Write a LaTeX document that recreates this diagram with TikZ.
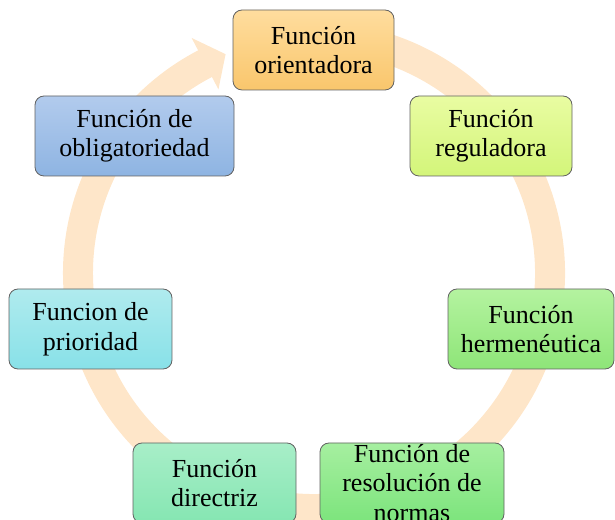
\documentclass[tikz,border=0pt]{standalone}
\usepackage{fontspec}
\setmainfont{Liberation Serif}
\usetikzlibrary{calc}
\begin{document}
\begin{tikzpicture}[x=1pt,y=1pt,
  fbox/.style={draw=black!62, line width=0.8pt, rounded corners=9pt,
    minimum height=80pt, align=center, inner sep=0pt,
    font=\fontsize{26}{29.5}\selectfont, text=black},
  ring/.style={draw=ringc, line width=30pt}
]
\definecolor{ringc}{RGB}{254,230,201}
\useasboundingbox (0,0) rectangle (615,519);
\clip (0,0) rectangle (615,519);
% ring
\coordinate (c) at (314,246);
\draw[ring] (c) ++(105:236) arc[start angle=105, end angle=-243.5, radius=236];
\fill[ringc] ($(c)+(117.5:207)$) -- ($(c)+(112:236)$) -- ($(c)+(117.5:265)$) -- cycle;
% boxes
\node[fbox, minimum width=161pt, top color={rgb,255:red,255;green,221;blue,158}, bottom color={rgb,255:red,249;green,198;blue,108}] (ori) at (313.5,469) {Función\\orientadora};
\node[fbox, minimum width=162pt, top color={rgb,255:red,233;green,252;blue,162}, bottom color={rgb,255:red,211;green,245;blue,122}] (reg) at (491,383) {Función\\reguladora};
\node[fbox, minimum width=199pt, top color={rgb,255:red,178;green,203;blue,237}, bottom color={rgb,255:red,142;green,180;blue,226}] (obl) at (134.5,383) {Función de\\obligatoriedad};
\node[fbox, minimum width=166pt, top color={rgb,255:red,180;green,243;blue,160}, bottom color={rgb,255:red,142;green,229;blue,120}] (her) at (531,190) {Función\\hermenéutica};
\node[fbox, minimum width=163pt, top color={rgb,255:red,176;green,235;blue,238}, bottom color={rgb,255:red,136;green,225;blue,232}] (pri) at (90.5,190) {Funcion de\\prioridad};
\node[fbox, minimum width=163pt, top color={rgb,255:red,168;green,238;blue,200}, bottom color={rgb,255:red,133;green,230;blue,178}] (dir) at (214.5,36) {Función\\directriz};
\node[fbox, minimum width=184pt, top color={rgb,255:red,166;green,239;blue,160}, bottom color={rgb,255:red,124;green,228;blue,124}] (res) at (412,36) {Función de\\resolución de\\normas};
\end{tikzpicture}
\end{document}
